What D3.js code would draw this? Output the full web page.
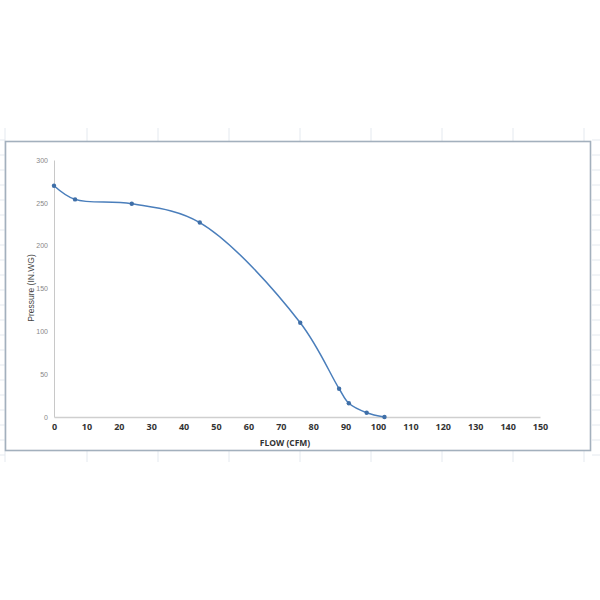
<!DOCTYPE html>
<html>
<head>
<meta charset="utf-8">
<script src="https://d3js.org/d3.v7.min.js"></script>
<style>
    body { margin: 0; background: #fff; }
    svg { display: block; }
</style>
</head>
<body>
<svg></svg>
<script>
    // data
    const flow = [0, 6.5, 24, 45, 76, 88, 91, 96.5, 102]
    const pressure = [270, 254, 249, 227, 110, 33, 16, 5, 0]
    const xTicks = [0, 10, 20, 30, 40, 50, 60, 70, 80, 90, 100, 110, 120, 130, 140, 150]
    const yTicks = [0, 50, 100, 150, 200, 250, 300]

    const width = 600, height = 600
    const svg = d3.select("svg").attr("width", width).attr("height", height)

    // faint spreadsheet cells behind the chart
    const sheetCols = [5, 87, 158, 229, 300, 371, 442, 513, 584]
    svg.append("g")
        .selectAll("line")
        .data(sheetCols)
        .join("line")
        .attr("x1", d => d).attr("x2", d => d)
        .attr("y1", 128).attr("y2", 462)
        .attr("stroke", "#e4e9ef")
    svg.append("g")
        .selectAll("line")
        .data(d3.range(140, 462, 15))
        .join("line")
        .attr("x1", 0).attr("x2", 5)
        .attr("y1", d => d).attr("y2", d => d)
        .attr("stroke", "#e4e9ef")
    svg.append("g")
        .selectAll("line")
        .data(d3.range(140, 462, 15))
        .join("line")
        .attr("x1", 592).attr("x2", 600)
        .attr("y1", d => d).attr("y2", d => d)
        .attr("stroke", "#e4e9ef")

    // chart frame
    svg.append("rect")
        .attr("x", 5.5).attr("y", 141.5)
        .attr("width", 585).attr("height", 309)
        .attr("fill", "#fff")
        .attr("stroke", "#a3b0bd")
        .attr("stroke-width", 1.6)

    const x = d3.scaleLinear().domain([0, 150]).range([54, 540])
    const y = d3.scaleLinear().domain([0, 300]).range([417, 160])

    // y axis
    const yAxis = svg.append("g")
        .attr("transform", "translate(54,0)")
        .call(d3.axisLeft(y).tickValues(yTicks).tickSize(0).tickPadding(6))
    yAxis.select(".domain").attr("stroke", "#c8c8c8")
    yAxis.selectAll("text")
        .attr("fill", "#888888")
        .style("font-family", "Liberation Sans, Arial, sans-serif")
        .style("font-size", "7px")

    // x axis
    const xAxis = svg.append("g")
        .attr("transform", "translate(0,417)")
        .call(d3.axisBottom(x).tickValues(xTicks).tickSize(0).tickPadding(7))
    xAxis.select(".domain").attr("stroke", "#cfcfcf").attr("stroke-width", 1.5)
    xAxis.selectAll("text")
        .attr("fill", "#333")
        .style("font-family", "Open Sans, Liberation Sans, sans-serif")
        .style("font-weight", "bold")
        .style("font-size", "9px")

    // axis titles
    svg.append("text")
        .attr("x", 285).attr("y", 446)
        .attr("text-anchor", "middle")
        .attr("fill", "#333")
        .style("font-family", "Open Sans, Liberation Sans, sans-serif")
        .style("font-weight", "bold")
        .style("font-size", "8.5px")
        .text("FLOW (CFM)")
    svg.append("text")
        .attr("transform", "translate(34,288) rotate(-90)")
        .attr("text-anchor", "middle")
        .attr("fill", "#444")
        .style("font-family", "Liberation Sans, Arial, sans-serif")
        .style("font-size", "8.5px")
        .text("Pressure (IN.WG)")

    // smoothed curve
    const pts = flow.map((f, i) => [f, pressure[i]])
    const line = d3.line()
        .x(d => x(d[0]))
        .y(d => y(d[1]))
        .curve(d3.curveCatmullRom.alpha(0.5))
    svg.append("path")
        .datum(pts)
        .attr("d", line)
        .attr("fill", "none")
        .attr("stroke", "#4a7ebb")
        .attr("stroke-width", 1.5)

    // point markers
    svg.append("g")
        .selectAll("circle")
        .data(pts)
        .join("circle")
        .attr("cx", d => x(d[0]))
        .attr("cy", d => y(d[1]))
        .attr("r", 2.2)
        .attr("fill", "#3f6fa8")
</script>
</body>
</html>
